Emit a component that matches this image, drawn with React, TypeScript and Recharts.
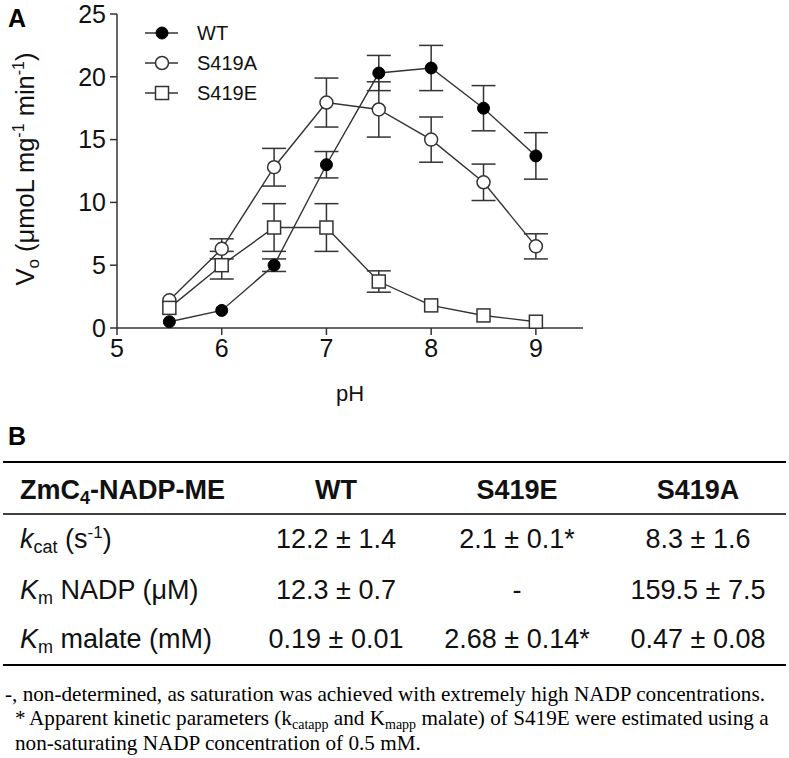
import React from 'react';
import { LineChart, Line, XAxis, YAxis, ErrorBar, Legend, Label } from 'recharts';

// pH profile (panel A)
const phValues = [5.5, 6, 6.5, 7, 7.5, 8, 8.5, 9];
const wtMean = [0.5, 1.4, 5.0, 13.0, 20.3, 20.7, 17.5, 13.7];
const s419aMean = [2.2, 6.3, 12.8, 17.95, 17.4, 15.0, 11.6, 6.5];
const s419eMean = [1.6, 5.0, 8.0, 8.0, 3.7, 1.8, 1.0, 0.5];
// error bars hidden behind the symbol in the figure are left out (null)
const wtErr = [null, null, 0.5, 1.05, 1.4, 1.8, 1.8, 1.85];
const s419aErr = [null, 0.8, 1.5, 1.95, 2.2, 1.8, 1.45, 1.0];
const s419eErr = [null, 1.1, 1.9, 1.9, 0.85, null, null, null];
const xTicks = [5, 6, 7, 8, 9];
const yTicks = [0, 5, 10, 15, 20, 25];
const seriesNames = ['WT', 'S419A', 'S419E'];

// kinetic table (panel B)
const tableColumns = ['WT', 'S419E', 'S419A'];
const kcatRow = ['12.2 ± 1.4', '2.1 ± 0.1*', '8.3 ± 1.6'];
const kmNadpRow = ['12.3 ± 0.7', '-', '159.5 ± 7.5'];
const kmMalateRow = ['0.19 ± 0.01', '2.68 ± 0.14*', '0.47 ± 0.08'];

const SANS = '"Liberation Sans", Arial, Helvetica, sans-serif';
const SERIF = '"Liberation Serif", "Times New Roman", serif';
const INK = '#111';
const LINE = '#333';

const chartData = phValues.map((ph, i) => ({
  ph,
  wt: wtMean[i],
  wtErr: wtErr[i],
  s419a: s419aMean[i],
  s419aErr: s419aErr[i],
  s419e: s419eMean[i],
  s419eErr: s419eErr[i],
}));

const SquareDot = (props: any) => {
  const { cx, cy, index } = props;
  if (cx == null || cy == null) return null;
  return (
    <rect
      key={`sq-${index}`}
      x={cx - 6.5}
      y={cy - 6.5}
      width={13}
      height={13}
      fill="#fff"
      stroke={LINE}
      strokeWidth={1.5}
    />
  );
};

const LegendMarker = ({ kind }: { kind: number }) => (
  <svg width={52} height={30} style={{ display: 'block' }}>
    <line x1={0} y1={15} x2={33} y2={15} stroke={LINE} strokeWidth={1.4} />
    {kind === 0 && <circle cx={17} cy={15} r={6} fill="#000" stroke="#000" />}
    {kind === 1 && <circle cx={17} cy={15} r={6.5} fill="#fff" stroke={LINE} strokeWidth={1.5} />}
    {kind === 2 && <rect x={10.5} y={8.5} width={13} height={13} fill="#fff" stroke={LINE} strokeWidth={1.5} />}
  </svg>
);

const LegendContent = () => (
  <div style={{ fontFamily: SANS, fontSize: 20, color: INK }}>
    {seriesNames.map((name, i) => (
      <div key={name} style={{ display: 'flex', alignItems: 'center', height: 30 }}>
        <LegendMarker kind={i} />
        <span>{name}</span>
      </div>
    ))}
  </div>
);

const YLabel = (props: any) => {
  const vb = props.viewBox ?? { x: 57, y: 14, width: 60, height: 314 };
  const cx = vb.x - 23;
  const cy = vb.y + vb.height / 2 - 2;
  return (
    <text
      x={cx}
      y={cy}
      transform={`rotate(-90 ${cx} ${cy})`}
      textAnchor="middle"
      fontFamily={SANS}
      fontSize={25.5}
      fill={INK}
    >
      V<tspan fontSize={17} dy={5}>o</tspan>
      <tspan dy={-5}> (μmoL mg</tspan>
      <tspan fontSize={16} dy={-10}>-1</tspan>
      <tspan dy={10}> min</tspan>
      <tspan fontSize={16} dy={-10}>-1</tspan>
      <tspan dy={10}>)</tspan>
    </text>
  );
};

const colCenters = [336, 517, 698];

const TablePanel = () => {
  const rows = [kcatRow, kmNadpRow, kmMalateRow];
  const baselines = [548, 598.5, 648];
  const cell = { fontFamily: SANS, fontSize: 27, fill: INK } as const;
  return (
    <svg width={789} height={348} style={{ position: 'absolute', left: 0, top: 410 }}>
      <g transform="translate(0,-410)">
        <text x={8} y={445} fontFamily={SANS} fontWeight="bold" fontSize={25} fill="#000">B</text>
        <line x1={3} x2={786} y1={462} y2={462} stroke="#000" strokeWidth={2} />
        <line x1={3} x2={786} y1={514} y2={514} stroke="#000" strokeWidth={1.5} />
        <line x1={3} x2={786} y1={665} y2={665} stroke="#000" strokeWidth={2} />
        <text x={20} y={499} {...cell} fontWeight="bold">
          ZmC<tspan fontSize={18} dy={5}>4</tspan>
          <tspan dy={-5}>-NADP-ME</tspan>
        </text>
        {tableColumns.map((c, i) => (
          <text key={c} x={colCenters[i]} y={499} textAnchor="middle" {...cell} fontWeight="bold">
            {c}
          </text>
        ))}
        <text x={20} y={baselines[0]} {...cell}>
          <tspan fontStyle="italic">k</tspan>
          <tspan fontSize={18} dy={5}>cat</tspan>
          <tspan dy={-5}> (s</tspan>
          <tspan fontSize={17} dy={-10}>-1</tspan>
          <tspan dy={10}>)</tspan>
        </text>
        <text x={20} y={baselines[1]} {...cell}>
          <tspan fontStyle="italic">K</tspan>
          <tspan fontSize={18} dy={5}>m</tspan>
          <tspan dy={-5}> NADP (μM)</tspan>
        </text>
        <text x={20} y={baselines[2]} {...cell}>
          <tspan fontStyle="italic">K</tspan>
          <tspan fontSize={18} dy={5}>m</tspan>
          <tspan dy={-5}> malate (mM)</tspan>
        </text>
        {rows.map((r, ri) =>
          r.map((v, ci) => (
            <text key={`${ri}-${ci}`} x={colCenters[ci]} y={baselines[ri]} textAnchor="middle" {...cell}>
              {v}
            </text>
          ))
        )}
        <g fontFamily={SERIF} fontSize={21.2} fill="#000">
          <text x={5} y={701}>
            -, non-determined, as saturation was achieved with extremely high NADP concentrations.
          </text>
          <text x={15} y={725}>*</text>
          <text x={29} y={725}>
            Apparent kinetic parameters (k<tspan fontSize={14} dy={4}>catapp</tspan>
            <tspan dy={-4}> and K</tspan>
            <tspan fontSize={14} dy={4}>mapp</tspan>
            <tspan dy={-4}> malate) of S419E were estimated using a</tspan>
          </text>
          <text x={15} y={750}>non-saturating NADP concentration of 0.5 mM.</text>
        </g>
      </g>
    </svg>
  );
};

export default function App() {
  return (
    <div style={{ position: 'absolute', left: 0, top: 0, width: 789, height: 758, background: '#fff' }}>
      <svg width={40} height={40} style={{ position: 'absolute', left: 0, top: 0 }}>
        <text x={8} y={27} fontFamily={SANS} fontWeight="bold" fontSize={25} fill="#000">A</text>
      </svg>
      <LineChart
        width={789}
        height={410}
        data={chartData}
        margin={{ top: 14, right: 206, bottom: 0, left: 57 }}
      >
        <XAxis
          dataKey="ph"
          type="number"
          domain={[5, 9.45]}
          ticks={xTicks}
          allowDataOverflow
          height={82}
          tickSize={7}
          tickMargin={4}
          axisLine={{ stroke: LINE, strokeWidth: 1.5 }}
          tickLine={{ stroke: LINE, strokeWidth: 1.5 }}
          tick={{ fontSize: 25, fill: INK, fontFamily: SANS }}
        >
          <Label value="pH" position="insideBottom" offset={9} fontSize={22} fill={INK} fontFamily={SANS} />
        </XAxis>
        <YAxis
          type="number"
          domain={[0, 25]}
          ticks={yTicks}
          width={60}
          tickSize={7}
          tickMargin={4}
          axisLine={{ stroke: LINE, strokeWidth: 1.5 }}
          tickLine={{ stroke: LINE, strokeWidth: 1.5 }}
          tick={{ fontSize: 25, fill: INK, fontFamily: SANS }}
        >
          <Label content={YLabel} />
        </YAxis>
        <Legend
          layout="vertical"
          align="center"
          verticalAlign="middle"
          content={LegendContent}
          wrapperStyle={{ left: 145, top: 18, width: 160, height: 90 }}
        />
        {/* error bars on stroke-less carriers so the symbols sit on top of them */}
        <Line dataKey="wt" stroke="none" dot={false} activeDot={false} legendType="none" isAnimationActive={false}>
          <ErrorBar dataKey="wtErr" direction="y" width={12} stroke={LINE} strokeWidth={1.5} isAnimationActive={false} />
        </Line>
        <Line dataKey="s419a" stroke="none" dot={false} activeDot={false} legendType="none" isAnimationActive={false}>
          <ErrorBar dataKey="s419aErr" direction="y" width={12} stroke={LINE} strokeWidth={1.5} isAnimationActive={false} />
        </Line>
        <Line dataKey="s419e" stroke="none" dot={false} activeDot={false} legendType="none" isAnimationActive={false}>
          <ErrorBar dataKey="s419eErr" direction="y" width={12} stroke={LINE} strokeWidth={1.5} isAnimationActive={false} />
        </Line>
        <Line
          type="linear"
          dataKey="wt"
          name="WT"
          stroke={LINE}
          strokeWidth={1.4}
          dot={{ r: 6, fill: '#000', stroke: '#000', strokeWidth: 1 }}
          activeDot={false}
          isAnimationActive={false}
        />
        <Line
          type="linear"
          dataKey="s419a"
          name="S419A"
          stroke={LINE}
          strokeWidth={1.4}
          dot={{ r: 6.5, fill: '#fff', stroke: LINE, strokeWidth: 1.5 }}
          activeDot={false}
          isAnimationActive={false}
        />
        <Line
          type="linear"
          dataKey="s419e"
          name="S419E"
          stroke={LINE}
          strokeWidth={1.4}
          dot={SquareDot}
          activeDot={false}
          isAnimationActive={false}
        />
      </LineChart>
      <TablePanel />
    </div>
  );
}
